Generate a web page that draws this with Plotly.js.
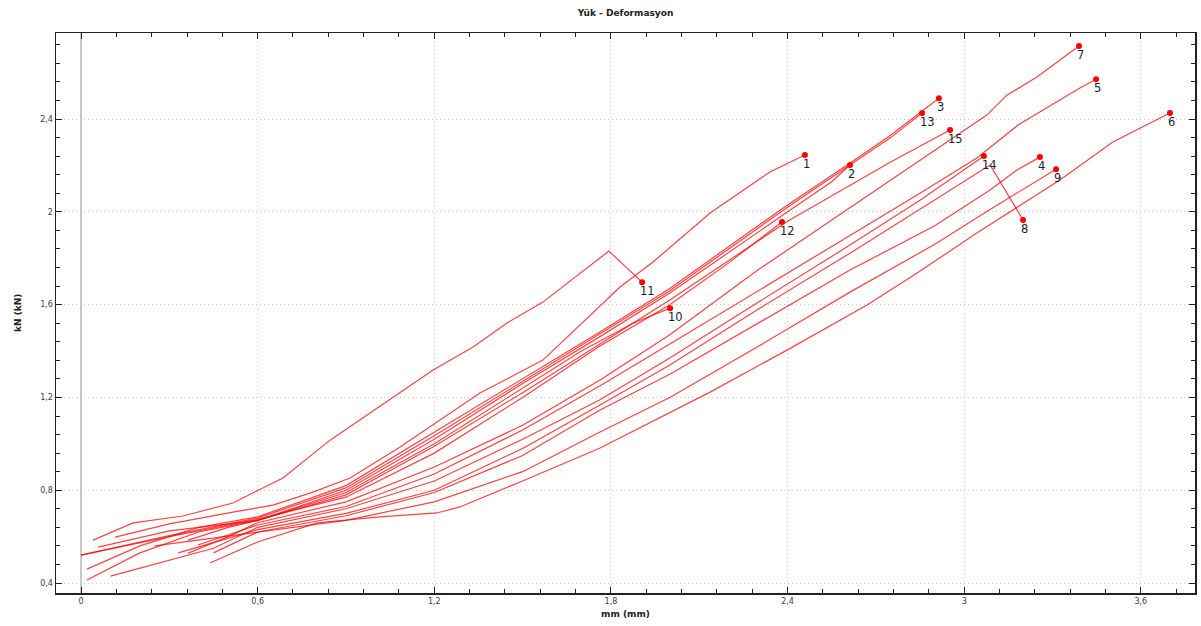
<!DOCTYPE html>
<html>
<head>
<meta charset="utf-8">
<script src="https://cdn.plot.ly/plotly-3.0.1.min.js"></script>
<style>html,body{margin:0;padding:0;background:#fff;}#chart{width:1201px;height:626px;}</style>
</head>
<body>
<div id="chart"></div>
<script>
// Load-deformation curves (mm, kN), one pair of arrays per specimen
const mm1  = [0.116,0.3,0.516,0.652,0.788,0.914,1.084,1.355,1.569,1.739,1.831,1.943,2.137,2.340,2.459];
const kN1  = [0.598,0.655,0.706,0.736,0.792,0.853,0.986,1.219,1.361,1.564,1.676,1.784,1.995,2.172,2.245];
const mm2  = [0.058,0.3,0.6,0.9,1.2,1.5,1.76,2.0,2.4,2.55,2.612];
const kN2  = [0.555,0.625,0.67,0.8,1.02,1.26,1.46,1.65,2.0,2.13,2.202];
const mm3  = [0.02,0.2,0.4,0.6,0.9,1.2,1.5,1.76,2.0,2.4,2.6,2.75,2.914];
const kN3  = [0.46,0.56,0.64,0.685,0.82,1.05,1.28,1.48,1.67,2.03,2.2,2.33,2.49];
const mm4  = [0.45,0.6,0.9,1.2,1.5,1.763,2.0,2.3,2.612,2.9,3.088,3.179,3.257];
const kN4  = [0.53,0.62,0.69,0.79,0.95,1.146,1.30,1.52,1.749,1.94,2.094,2.18,2.236];
const mm5  = [0.397,0.6,0.9,1.2,1.5,1.763,2.0,2.3,2.612,2.85,3.043,3.183,3.393,3.448];
const kN5  = [0.564,0.65,0.73,0.87,1.06,1.25,1.43,1.66,1.90,2.08,2.232,2.374,2.534,2.572];
const mm6  = [0.438,0.6,0.802,1.005,1.209,1.287,1.5,1.763,2.137,2.398,2.67,2.84,3.043,3.325,3.505,3.699];
const kN6  = [0.486,0.577,0.659,0.684,0.702,0.728,0.84,0.982,1.223,1.404,1.598,1.736,1.909,2.137,2.301,2.426];
const mm7  = [0.364,0.5,0.6,0.9,1.2,1.5,1.763,2.0,2.3,2.612,2.986,3.077,3.145,3.247,3.39];
const kN7  = [0.529,0.6,0.66,0.75,0.90,1.08,1.275,1.47,1.75,2.017,2.34,2.417,2.503,2.581,2.715];
const mm8  = [0.33,0.6,0.9,1.2,1.5,1.763,2.0,2.3,2.612,2.9,3.088,3.2];
const kN8  = [0.53,0.63,0.70,0.80,0.98,1.167,1.34,1.58,1.822,2.05,2.202,1.965];
const mm9  = [0.25,0.6,0.9,1.2,1.5,1.763,2.0,2.3,2.612,2.9,3.1,3.312];
const kN9  = [0.56,0.62,0.67,0.75,0.88,1.051,1.2,1.42,1.654,1.86,2.02,2.184];
const mm10 = [0.364,0.5,0.6,0.9,1.2,1.5,1.7,1.875,2.001];
const kN10 = [0.585,0.64,0.67,0.79,1.0,1.24,1.40,1.52,1.585];
const mm11 = [0.041,0.177,0.346,0.516,0.686,0.846,1.196,1.332,1.447,1.569,1.793,1.906];
const kN11 = [0.585,0.659,0.689,0.745,0.853,1.016,1.318,1.417,1.521,1.611,1.831,1.697];
const mm12 = [0.0,0.3,0.6,0.9,1.2,1.5,1.76,2.0,2.2,2.381];
const kN12 = [0.52,0.6,0.675,0.77,0.96,1.2,1.42,1.6,1.78,1.956];
const mm13 = [0.0,0.3,0.6,0.9,1.2,1.5,1.76,2.0,2.4,2.6,2.75,2.857];
const kN13 = [0.52,0.605,0.68,0.81,1.035,1.27,1.47,1.66,2.02,2.19,2.32,2.426];
const mm14 = [0.1,0.3,0.45,0.6,0.9,1.2,1.5,1.763,2.0,2.3,2.612,2.85,3.067];
const kN14 = [0.43,0.5,0.55,0.64,0.72,0.84,1.02,1.19,1.37,1.61,1.857,2.05,2.241];
const mm15 = [0.02,0.2,0.4,0.6,0.9,1.2,1.5,1.76,2.0,2.4,2.75,2.952];
const kN15 = [0.413,0.53,0.62,0.67,0.78,0.99,1.22,1.43,1.62,1.96,2.215,2.353];

const seriesLabels = ["1","2","3","4","5","6","7","8","9","10","11","12","13","14","15"];
const seriesMM = [mm1,mm2,mm3,mm4,mm5,mm6,mm7,mm8,mm9,mm10,mm11,mm12,mm13,mm14,mm15];
const seriesKN = [kN1,kN2,kN3,kN4,kN5,kN6,kN7,kN8,kN9,kN10,kN11,kN12,kN13,kN14,kN15];

const chartTitle = "Yük - Deformasyon";
const xTitle = "mm (mm)";
const yTitle = "kN (kN)";

const traces = [];
seriesLabels.forEach((lab, i) => {
  traces.push({
    type: 'scatter', mode: 'lines', name: lab,
    x: seriesMM[i], y: seriesKN[i],
    line: {color: 'rgba(255,0,0,0.75)', width: 1.2},
    hoverinfo: 'skip', showlegend: false
  });
});
const endX = seriesMM.map(a => a[a.length-1]);
const endY = seriesKN.map(a => a[a.length-1]);
traces.push({
  type: 'scatter', mode: 'markers',
  x: endX, y: endY,
  marker: {color: '#ff0000', size: 6},
  showlegend: false, hoverinfo: 'skip', cliponaxis: false
});

const labelFont = {family: 'DejaVu Sans, sans-serif', size: 11.5, color: '#1c1c36'};
const endAnnotations = seriesLabels.map((lab, i) => ({
  text: lab, x: endX[i], y: endY[i], xref: 'x', yref: 'y',
  xanchor: 'left', yanchor: 'top', xshift: -3, yshift: -1,
  showarrow: false, font: labelFont, borderpad: 0
}));

const axisFont = {family: 'DejaVu Sans, sans-serif', size: 8, color: '#3a3a55'};

const layout = {
  width: 1201, height: 626,
  paper_bgcolor: '#ffffff', plot_bgcolor: '#ffffff',
  margin: {l: 56, r: 6, t: 33, b: 33, pad: 0},
  separators: ',.',
  showlegend: false,
  xaxis: {
    range: [-0.085, 3.784], autorange: false,
    tick0: 0, dtick: 0.6, tickformat: '~r',
    showgrid: true, gridcolor: '#c8c8c8', griddash: '1px,3px', gridwidth: 1,
    zeroline: true, zerolinecolor: '#c8c8c8', zerolinewidth: 1.5,
    showline: true, linecolor: '#222', linewidth: 1.5, mirror: 'ticks',
    ticks: 'inside', ticklen: 6, tickcolor: '#222', tickwidth: 1,
    minor: {dtick: 0.12, tick0: 0, ticks: 'inside', ticklen: 4, tickcolor: '#222', showgrid: false},
    tickfont: axisFont, automargin: false,
    title: {text: ''}
  },
  yaxis: {
    range: [0.357, 2.771], autorange: false,
    tick0: 0.4, dtick: 0.4, tickformat: '~r',
    showgrid: true, gridcolor: '#c8c8c8', griddash: '1px,3px', gridwidth: 1,
    zeroline: false,
    showline: true, linecolor: '#222', linewidth: 1.5, mirror: 'ticks',
    ticks: 'inside', ticklen: 6, tickcolor: '#222', tickwidth: 1,
    minor: {dtick: 0.08, tick0: 0, ticks: 'inside', ticklen: 4, tickcolor: '#222', showgrid: false},
    tickfont: axisFont, automargin: false,
    title: {text: ''}
  },
  title: {
    text: '<b>' + chartTitle + '</b>',
    font: {family: 'DejaVu Sans, sans-serif', size: 9, color: '#222'},
    x: 0.5, xref: 'paper', xanchor: 'center',
    y: 1 - 13/626, yref: 'container', yanchor: 'middle'
  },
  annotations: [
    {text: '<b>' + xTitle + '</b>', xref: 'paper', yref: 'paper', x: 0.5, y: 0,
     xanchor: 'center', yanchor: 'middle', yshift: -21, showarrow: false,
     font: {family: 'DejaVu Sans, sans-serif', size: 9, color: '#222'}},
    {text: '<b>' + yTitle + '</b>', xref: 'paper', yref: 'paper', x: 0, y: 0.5,
     xanchor: 'center', yanchor: 'middle', xshift: -38, yshift: 0, textangle: -90, showarrow: false,
     font: {family: 'DejaVu Sans, sans-serif', size: 9, color: '#222'}}
  ].concat(endAnnotations)
};

Plotly.newPlot('chart', traces, layout, {staticPlot: true, displayModeBar: false});
</script>
</body>
</html>
